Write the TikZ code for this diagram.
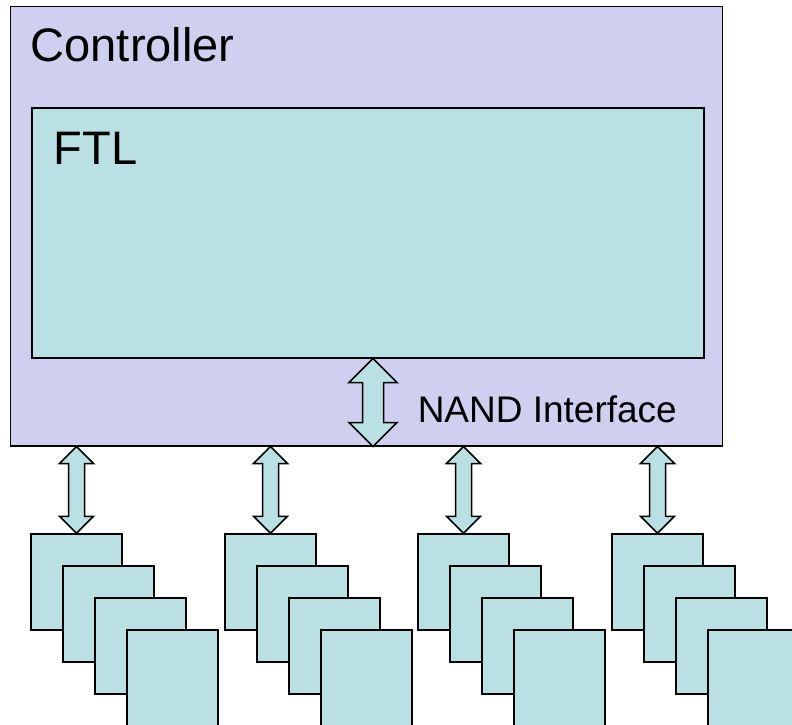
\documentclass[tikz,border=0pt]{standalone}
\usepackage{fontspec}
\setmainfont{Liberation Sans}
\usetikzlibrary{positioning, calc}
\definecolor{ctrlpurple}{RGB}{207,207,239}
\definecolor{ftlteal}{RGB}{187,224,227}

% two-headed block arrow: top, bottom, shaft half width, head half width, head length
\newcommand{\busarrow}[5]{%
  \draw[fill=ftlteal] let \p1=(#1), \p2=(#2) in
    (\x1,\y1) -- (\x1+#4,\y1-#5) -- (\x1+#3,\y1-#5) -- (\x1+#3,\y2+#5)
    -- (\x1+#4,\y2+#5) -- (\x1,\y2) -- (\x1-#4,\y2+#5) -- (\x1-#3,\y2+#5)
    -- (\x1-#3,\y1-#5) -- (\x1-#4,\y1-#5) -- cycle;}

\begin{document}
\begin{tikzpicture}[x=1pt, y=-1pt, line width=1.5pt, line join=miter,
  box/.style={draw, rectangle, inner sep=0pt, anchor=north west},
  chip/.style={draw, rectangle, fill=ftlteal, inner sep=0pt, minimum width=91pt, minimum height=96pt},
  lbl/.style={anchor=base west, inner sep=0pt}]
  \useasboundingbox (0,0) rectangle (792,725);
  \clip (0,0) rectangle (792,725);

  \node[box, fill=ctrlpurple, minimum width=712pt, minimum height=439pt] (ctrl) at (9.5,6) {};
  \node[box, fill=ftlteal, minimum width=672pt, minimum height=250pt] (ftl) at (31,107) {};

  \node[lbl, font=\fontsize{47}{56}\selectfont] (ctrllbl) at (30,62) {Controller};
  \node[lbl, font=\fontsize{47}{56}\selectfont] (ftllbl) at (53,164) {FTL};

  \coordinate (nandtop) at (ftl.south -| 373,0);
  \coordinate (nandbot) at (ctrl.south -| 373,0);
  \busarrow{nandtop}{nandbot}{10.5}{24}{24}
  \node[lbl, font=\fontsize{37}{44}\selectfont] (nandlbl) at (417,422) {NAND Interface};

  % flash packages
  \foreach \g [count=\i] in {31,225,418,612} {
    \foreach \k in {0,...,3}
      \node[chip] (chip\i-\k) at (\g+32*\k+45.5, 534+32*\k+48) {};
    \coordinate (bus\i) at (chip\i-0.north |- ctrl.south);
    \busarrow{bus\i}{chip\i-0.north}{8}{17}{17}
  }
\end{tikzpicture}
\end{document}
